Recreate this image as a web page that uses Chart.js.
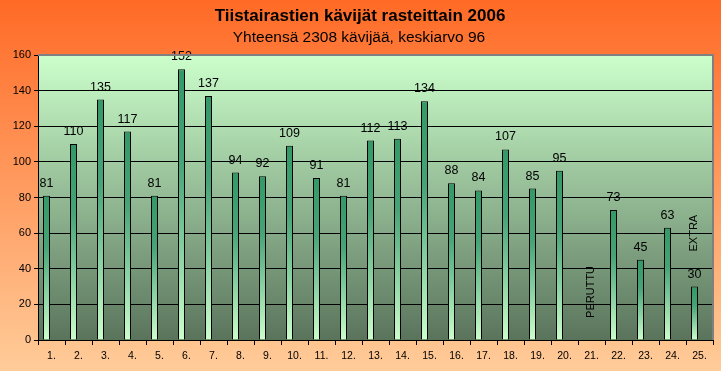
<!DOCTYPE html>
<html><head><meta charset="utf-8">
<script src="https://cdn.jsdelivr.net/npm/chart.js@4"></script>
<style>html,body{margin:0;padding:0;overflow:hidden;background:#ffcc99}
#wrap{width:721px;height:371px;position:relative}</style>
</head><body><div id="wrap"><canvas id="c" width="721" height="371"></canvas></div>
<script>
const titleText = 'Tiistairastien kävijät rasteittain 2006';
const subtitleText = 'Yhteensä 2308 kävijää, keskiarvo 96';
const categories = ['1.','2.','3.','4.','5.','6.','7.','8.','9.','10.','11.','12.','13.','14.','15.','16.','17.','18.','19.','20.','21.','22.','23.','24.','25.'];
const visitors = [81,110,135,117,81,152,137,94,92,109,91,81,112,113,134,88,84,107,85,95,null,73,45,63,30];
const noteLabels = ['PERUTTU','EXTRA'];
const noteCategories = ['21.','25.'];
const noteValues = [27, 60];
const yMin = 0, yMax = 160, yStep = 20;

const FONT = "'Liberation Sans', Arial, sans-serif";

const bgPlugin = {
  id: 'bg',
  beforeDraw(chart) {
    const ctx = chart.ctx, a = chart.chartArea;
    ctx.save();
    let g = ctx.createLinearGradient(0, 0, 0, chart.height);
    g.addColorStop(0, '#ff6a26');
    g.addColorStop(1, '#ffcc99');
    ctx.fillStyle = g;
    ctx.fillRect(0, 0, chart.width, chart.height);
    g = ctx.createLinearGradient(0, a.top, 0, a.bottom);
    g.addColorStop(0, '#ccffcc');
    g.addColorStop(1, '#5a745c');
    ctx.fillStyle = g;
    ctx.fillRect(a.left, a.top, a.right - a.left, a.bottom - a.top);
    ctx.restore();
  },
  afterDraw(chart) {
    const ctx = chart.ctx, a = chart.chartArea;
    ctx.save();
    ctx.strokeStyle = '#808080';
    ctx.lineWidth = 2;
    ctx.beginPath();
    ctx.moveTo(a.left, a.top);
    ctx.lineTo(a.right, a.top);
    ctx.lineTo(a.right, a.bottom);
    ctx.stroke();
    ctx.fillStyle = '#000';
    ctx.textAlign = 'center';
    ctx.textBaseline = 'alphabetic';
    ctx.font = 'bold 17px ' + FONT;
    ctx.fillText(titleText, 360, 21);
    ctx.font = '15.5px ' + FONT;
    ctx.fillText(subtitleText, 359, 42);
    ctx.restore();
  }
};

const labelPlugin = {
  id: 'vlabels',
  afterDatasetsDraw(chart) {
    const ctx = chart.ctx;
    const meta = chart.getDatasetMeta(0);
    ctx.save();
    ctx.fillStyle = '#000';
    ctx.font = '12.5px ' + FONT;
    ctx.textAlign = 'center';
    ctx.textBaseline = 'alphabetic';
    meta.data.forEach((bar, i) => {
      const v = visitors[i];
      if (v == null) return;
      ctx.fillText(String(v), bar.x, bar.y - 9);
    });
    const xs = chart.scales.x, ys = chart.scales.y;
    ctx.font = '11px ' + FONT;
    ctx.textBaseline = 'middle';
    noteLabels.forEach((t, i) => {
      const idx = categories.indexOf(noteCategories[i]);
      const x = (i === 0) ? xs.getPixelForValue(idx) - 1 : meta.data[idx].x - 1;
      const y = ys.getPixelForValue(noteValues[i]);
      ctx.save();
      ctx.translate(x, y);
      ctx.rotate(-Math.PI / 2);
      ctx.fillText(t, 0, 0);
      ctx.restore();
    });
    ctx.restore();
  }
};

function barGradient(c) {
  const chart = c.chart;
  if (c.type !== 'data' || !chart.chartArea) return '#339966';
  const v = c.raw;
  if (v == null) return 'rgba(0,0,0,0)';
  const ys = chart.scales.y;
  const top = ys.getPixelForValue(v), bot = ys.getPixelForValue(0);
  const g = chart.ctx.createLinearGradient(0, top, 0, bot);
  g.addColorStop(0, '#339966');
  g.addColorStop(0.35, '#46a476');
  g.addColorStop(1, '#ccffcc');
  return g;
}

new Chart(document.getElementById('c'), {
  type: 'bar',
  data: {
    labels: categories,
    datasets: [
      { data: visitors, backgroundColor: barGradient, borderColor: '#000', borderWidth: 1,
        categoryPercentage: 0.74, barPercentage: 0.7 },
      { data: categories.map(() => null), backgroundColor: 'rgba(0,0,0,0)', borderWidth: 0,
        categoryPercentage: 0.74, barPercentage: 0.7 }
    ]
  },
  options: {
    responsive: false,
    animation: false,
    devicePixelRatio: 1,
    layout: { padding: { top: 55, right: 8, left: 0, bottom: 0 } },
    plugins: { legend: { display: false }, tooltip: { enabled: false }, title: { display: false } },
    scales: {
      x: {
        offset: true,
        grid: { display: true, drawOnChartArea: false, offset: true, tickLength: 5, color: '#000' },
        border: { display: true, color: '#000', width: 1 },
        ticks: { color: '#000', font: { family: FONT, size: 10.5 }, padding: 5, maxRotation: 0, autoSkip: false },
        afterFit(s) { s.height = 31; }
      },
      y: {
        min: yMin, max: yMax,
        grid: { color: '#000', tickLength: 4, lineWidth: 1 },
        border: { display: true, color: '#000', width: 1 },
        ticks: { stepSize: yStep, color: '#000', font: { family: FONT, size: 11 }, padding: 3 },
        afterFit(s) { s.width = 38; }
      }
    }
  },
  plugins: [bgPlugin, labelPlugin]
});
</script></body></html>
